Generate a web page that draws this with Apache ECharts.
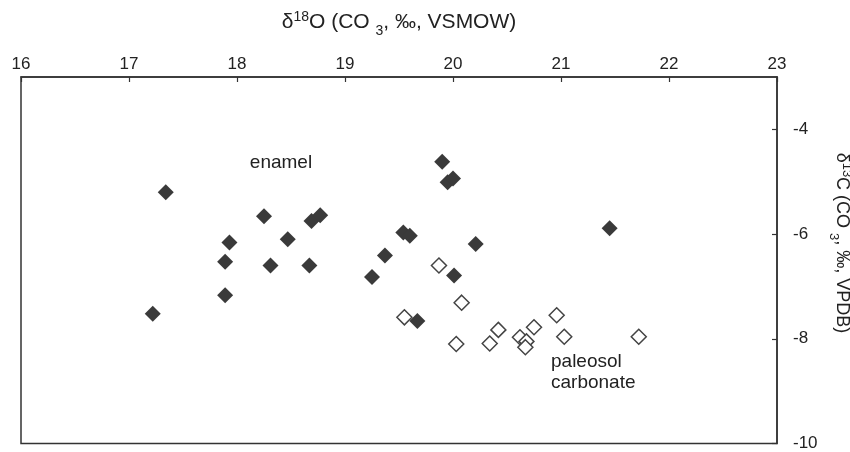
<!DOCTYPE html>
<html>
<head>
<meta charset="utf-8">
<script src="https://cdn.jsdelivr.net/npm/echarts@6/dist/echarts.min.js"></script>
<style>
  html, body { margin: 0; padding: 0; background: #fff; }
  #chart { width: 850px; height: 452px; }
</style>
</head>
<body>
<div id="chart"></div>
<script>
// 牙釉质（实心菱形）
var enamelX = [17.34, 17.22, 17.93, 17.89, 17.89, 18.25, 18.47, 18.31, 18.67, 18.69, 18.77,
  19.25, 19.90, 19.95, 20.00, 19.54, 19.60, 19.37, 20.21, 20.01, 19.67, 21.45];
var enamelY = [-5.20, -7.52, -6.16, -6.53, -7.17, -5.66, -6.10, -6.60, -6.60, -5.75, -5.64,
  -6.82, -4.62, -5.01, -4.94, -5.97, -6.03, -6.41, -6.19, -6.79, -7.66, -5.89];
// 古土壤碳酸盐（空心菱形）
var paleoX = [19.87, 20.08, 19.55, 20.03, 20.34, 20.42, 20.62, 20.75, 20.68, 20.67, 20.96, 21.03, 21.72];
var paleoY = [-6.60, -7.31, -7.59, -8.10, -8.09, -7.83, -7.97, -7.78, -8.05, -8.16, -7.55, -7.96, -7.96];
var xTicks = [16, 17, 18, 19, 20, 21, 22, 23];
var yTicks = [-10, -8, -6, -4];

function pairs(xs, ys) {
  return xs.map(function (x, i) { return [x, ys[i]]; });
}

var font = '"Liberation Sans", Arial, sans-serif';
var chart = echarts.init(document.getElementById('chart'));
var option = {
  animation: false,
  textStyle: { fontFamily: font, color: '#222' },
  grid: {
    left: 21,
    right: 73,
    top: 77,
    bottom: 6,
    show: true,
    borderColor: '#333',
    borderWidth: 1.5
  },
  xAxis: {
    type: 'value',
    position: 'top',
    min: 16,
    max: 23,
    interval: 1,
    name: '{n|δ}{sup|18}{n|O (CO }{sub|3}{n|, ‰, VSMOW)}',
    nameLocation: 'middle',
    nameGap: 43,
    nameTextStyle: {
      rich: {
        n: { fontSize: 21, fontFamily: font, color: '#222', lineHeight: 24 },
        sup: { fontSize: 14, fontFamily: font, color: '#222', verticalAlign: 'top', lineHeight: 14 },
        sub: { fontSize: 14, fontFamily: font, color: '#222', verticalAlign: 'bottom', lineHeight: 14, padding: [0, 0, -4, 0] }
      }
    },
    axisLine: { lineStyle: { color: '#333', width: 1.5 } },
    axisTick: { inside: true, length: 5, lineStyle: { color: '#333', width: 1.2 } },
    axisLabel: {
      customValues: xTicks,
      fontSize: 17,
      margin: 4,
      color: '#222'
    },
    splitLine: { show: false }
  },
  yAxis: {
    type: 'value',
    position: 'right',
    min: -10,
    max: -3,
    interval: 2,
    axisLine: { show: true, lineStyle: { color: '#333', width: 1.5 } },
    axisTick: { show: true, inside: true, length: 5, customValues: yTicks, lineStyle: { color: '#333', width: 1.2 } },
    axisLabel: {
      customValues: yTicks,
      fontSize: 17,
      margin: 16,
      color: '#222'
    },
    splitLine: { show: false }
  },
  graphic: [
    {
      type: 'text',
      x: 842,
      y: 243,
      rotation: -Math.PI / 2,
      style: {
        text: '{n|δ}{sup|13}{n|C (CO }{sub|3}{n|, ‰, VPDB)}',
        align: 'center',
        verticalAlign: 'middle',
        rich: {
          n: { fontSize: 18, fontFamily: font, fill: '#222', lineHeight: 22 },
          sup: { fontSize: 13, fontFamily: font, fill: '#222', verticalAlign: 'top', lineHeight: 13 },
          sub: { fontSize: 13, fontFamily: font, fill: '#222', verticalAlign: 'bottom', lineHeight: 13, padding: [0, 0, -4, 0] }
        }
      }
    },
    {
      type: 'text',
      x: 281,
      y: 163,
      style: {
        text: 'enamel',
        font: '19px ' + font,
        fill: '#222',
        align: 'center',
        verticalAlign: 'middle'
      }
    },
    {
      type: 'text',
      x: 551,
      y: 372,
      style: {
        text: 'paleosol\ncarbonate',
        font: '19px ' + font,
        fill: '#222',
        lineHeight: 21,
        align: 'left',
        verticalAlign: 'middle'
      }
    }
  ],
  series: [
    {
      name: 'enamel',
      type: 'scatter',
      symbol: 'diamond',
      symbolSize: 16,
      itemStyle: { color: '#3a3a3a', opacity: 1 },
      data: pairs(enamelX, enamelY)
    },
    {
      name: 'paleosol carbonate',
      type: 'scatter',
      symbol: 'diamond',
      symbolSize: 15,
      itemStyle: { color: '#fff', borderColor: '#444', borderWidth: 1.5, opacity: 1 },
      data: pairs(paleoX, paleoY)
    }
  ]
};
chart.setOption(option);
</script>
</body>
</html>
